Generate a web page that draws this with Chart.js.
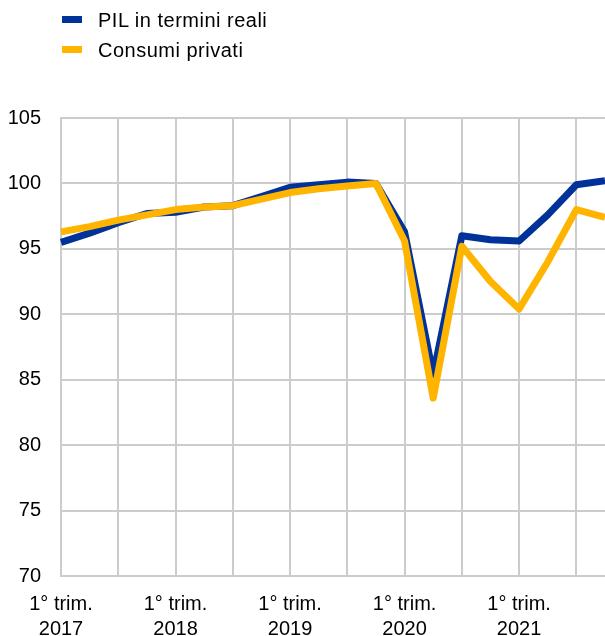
<!DOCTYPE html>
<html lang="it">
<head>
<meta charset="utf-8">
<title>PIL in termini reali e consumi privati</title>
<script src="https://cdn.jsdelivr.net/npm/chart.js@4/dist/chart.umd.min.js"></script>
<style>
  html, body { margin: 0; padding: 0; background: #ffffff; }
  #wrap { position: relative; width: 605px; height: 636px; }
  #chart { position: absolute; left: 0; top: 0; }
  .legend { position: absolute; left: 0; top: 0; font-family: "Liberation Sans", Arial, sans-serif;
            font-size: 20px; letter-spacing: 0.5px; color: #000; }
  .item { position: absolute; left: 62px; height: 24px; white-space: nowrap; }
  .swatch { position: absolute; left: 0; top: 8px; width: 20px; height: 7px; }
  .text { position: absolute; left: 36px; top: 0; line-height: 24px; }
</style>
</head>
<body>
<div id="wrap">
  <canvas id="chart" width="605" height="636"></canvas>
  <div class="legend" id="legend"></div>
</div>
<script>
// Trimestri dal 1° trim. 2017 al 4° trim. 2021
const quarters = [
  '2017 T1','2017 T2','2017 T3','2017 T4',
  '2018 T1','2018 T2','2018 T3','2018 T4',
  '2019 T1','2019 T2','2019 T3','2019 T4',
  '2020 T1','2020 T2','2020 T3','2020 T4',
  '2021 T1','2021 T2','2021 T3','2021 T4'
];
// Indici, 4° trim. 2019 = 100
const pilReale = [
  95.5, 96.2, 97.0, 97.7,
  97.8, 98.2, 98.3, 99.0,
  99.7, 99.9, 100.1, 100.0,
  96.3, 85.4, 96.0, 95.7,
  95.6, 97.6, 99.9, 100.2
];
const consumiPrivati = [
  96.3, 96.7, 97.2, 97.6,
  98.0, 98.2, 98.3, 98.8,
  99.3, 99.6, 99.8, 100.0,
  95.6, 83.6, 95.2, 92.5,
  90.4, 94.0, 98.0, 97.4
];
const seriesNames = ['PIL in termini reali', 'Consumi privati'];
const seriesColors = ['#003299', '#ffb400'];
const firstQuarterLabel = '1° trim.';
const yMin = 70, yMax = 105, yStep = 5;

const gridColor = '#cccccc';
const fontSpec = { family: '"Liberation Sans", Arial, sans-serif', size: 20 };

// Legenda disposta in colonna sopra il grafico
const legend = document.getElementById('legend');
seriesNames.forEach((name, i) => {
  const item = document.createElement('div');
  item.className = 'item';
  item.style.top = (8 + i * 30) + 'px';
  const sw = document.createElement('div');
  sw.className = 'swatch';
  sw.style.background = seriesColors[i];
  const tx = document.createElement('div');
  tx.className = 'text';
  tx.textContent = name;
  item.appendChild(sw);
  item.appendChild(tx);
  legend.appendChild(item);
});

new Chart(document.getElementById('chart'), {
  type: 'line',
  data: {
    labels: quarters,
    datasets: [
      {
        label: seriesNames[0], data: pilReale, borderColor: seriesColors[0],
        backgroundColor: seriesColors[0], borderWidth: 7, order: 1
      },
      {
        label: seriesNames[1], data: consumiPrivati, borderColor: seriesColors[1],
        backgroundColor: seriesColors[1], borderWidth: 7, order: 0
      }
    ]
  },
  options: {
    responsive: false,
    animation: false,
    devicePixelRatio: 1,
    layout: { autoPadding: false, padding: { top: 118, left: 0, right: 0, bottom: 0 } },
    elements: {
      point: { radius: 0, hoverRadius: 0 },
      line: { tension: 0, borderJoinStyle: 'round', borderCapStyle: 'butt' }
    },
    plugins: { legend: { display: false }, tooltip: { enabled: false } },
    scales: {
      x: {
        type: 'category',
        offset: false,
        afterFit: (s) => { s.height = 60; s.paddingLeft = 0; s.paddingRight = 0; },
        grid: {
          drawTicks: false,
          lineWidth: 2,
          color: (c) => (c.index % 2 === 0 ? gridColor : 'rgba(0,0,0,0)')
        },
        border: { display: true, color: gridColor, width: 2 },
        ticks: {
          autoSkip: false,
          maxRotation: 0,
          padding: 16,
          color: '#000',
          font: { ...fontSpec, lineHeight: 1.25 },
          callback: (v, i) => (i % 4 === 0 ? [firstQuarterLabel, quarters[i].slice(0, 4)] : '')
        }
      },
      y: {
        min: yMin,
        max: yMax,
        afterFit: (s) => { s.width = 61; },
        grid: { drawTicks: false, lineWidth: 2, color: gridColor },
        border: { display: true, color: gridColor, width: 2 },
        ticks: { stepSize: yStep, padding: 20, color: '#000', font: fontSpec }
      }
    }
  }
});
</script>
</body>
</html>
